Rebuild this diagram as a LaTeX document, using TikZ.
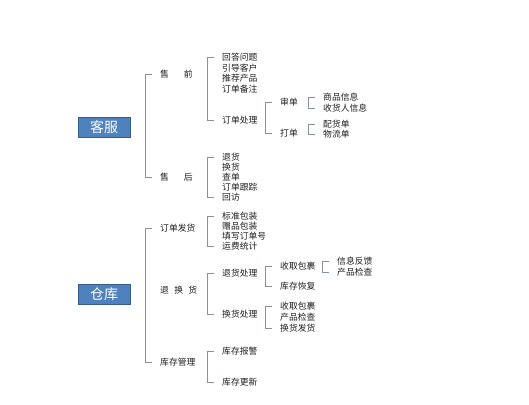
\documentclass[tikz,border=0pt]{standalone}
\usepackage{fontspec}
\setmainfont{Noto Sans CJK SC}
\usepackage{tikz}
\usetikzlibrary{positioning,calc}
\definecolor{boxblue}{RGB}{79,129,189}
\definecolor{boxedge}{RGB}{56,93,138}
\definecolor{linegray}{RGB}{135,145,155}
\definecolor{textgray}{RGB}{30,30,30}
\tikzset{
    root/.style={draw=boxedge, line width=0.8pt, fill=boxblue, text=white, minimum width=52pt, minimum height=20pt, inner sep=0pt, font=\fontsize{14}{16}\selectfont},
    item/.style={anchor=west, inner sep=0pt, text=textgray, font=\fontsize{8.8}{10}\selectfont},
    brace/.style={draw=linegray, line width=0.8pt}
}
\begin{document}
\begin{tikzpicture}[x=1pt, y=-1pt]
    \useasboundingbox (0,0) rectangle (529,404);
    % roots
    \node[root] (kf) at (104,127) {客服};
    \node[root] (ck) at (104,294) {仓库};
    % first level
    \node[item] (sq) at (160,74) {售\hspace{1.7em}前};
    \node[item] (sh) at (160,177) {售\hspace{1.7em}后};
    \node[item] (fh) at (160,228) {订单发货};
    \node[item] (thh) at (160,290) {退\hspace{0.6em}换\hspace{0.6em}货};
    \node[item] (kcgl) at (160,362) {库存管理};
    % second level
    \node[item] (hd) at (222,57) {回答问题};
    \node[item] (yd) at (222,68) {引导客户};
    \node[item] (tj) at (222,78) {推荐产品};
    \node[item] (bz) at (222,89) {订单备注};
    \node[item] (cl) at (222,120) {订单处理};
    \node[item] (th) at (222,157) {退货};
    \node[item] (hh) at (222,167) {换货};
    \node[item] (cd) at (222,177) {查单};
    \node[item] (gz) at (222,187) {订单跟踪};
    \node[item] (hf) at (222,197) {回访};
    \node[item] (bzbz) at (222,216) {标准包装};
    \node[item] (zp) at (222,226) {赠品包装};
    \node[item] (tx) at (222,236) {填写订单号};
    \node[item] (yf) at (222,246) {运费统计};
    \node[item] (thcl) at (222,273) {退货处理};
    \node[item] (hhcl) at (222,314) {换货处理};
    \node[item] (bj) at (222,351) {库存报警};
    \node[item] (gx) at (222,382) {库存更新};
    % third level
    \node[item] (sd) at (280,102) {审单};
    \node[item] (dd) at (280,133) {打单};
    \node[item] (sqa) at (280,266) {收取包裹};
    \node[item] (hfa) at (280,286) {库存恢复};
    \node[item] (sqb) at (280,306) {收取包裹};
    \node[item] (jcb) at (280,317) {产品检查};
    \node[item] (fhb) at (280,328) {换货发货};
    % fourth level
    \node[item] (xx) at (323,97) {商品信息};
    \node[item] (shr) at (323,108) {收货人信息};
    \node[item] (ph) at (323,124) {配货单};
    \node[item] (wl) at (323,134) {物流单};
    \node[item] (fk) at (337,261) {信息反馈};
    \node[item] (jca) at (337,272) {产品检查};
    % brackets
    \draw[brace] ([xshift=-8pt]sq.west) -- ++(-7,0) |- ([xshift=-8pt]sh.west);
    \draw[brace] ([xshift=-8pt]fh.west) -- ++(-7,0) |- ([xshift=-8pt]kcgl.west);
    \draw[brace] ([xshift=-8pt]hd.west) -- ++(-7,0) |- ([xshift=-8pt]cl.west);
    \draw[brace] ([xshift=-8pt]th.west) -- ++(-7,0) |- ([xshift=-8pt]hf.west);
    \draw[brace] ([xshift=-8pt]bzbz.west) -- ++(-7,0) |- ([xshift=-8pt]yf.west);
    \draw[brace] ([xshift=-8pt]thcl.west) -- ++(-7,0) |- ([xshift=-8pt]hhcl.west);
    \draw[brace] ([xshift=-8pt]bj.west) -- ++(-7,0) |- ([xshift=-8pt]gx.west);
    \draw[brace] ([xshift=-8pt]sd.west) -- ++(-7,0) |- ([xshift=-8pt]dd.west);
    \draw[brace] ([xshift=-8pt]sqa.west) -- ++(-7,0) |- ([xshift=-8pt]hfa.west);
    \draw[brace] ([xshift=-8pt]sqb.west) -- ++(-7,0) |- ([xshift=-8pt]fhb.west);
    \draw[brace] ([xshift=-8pt]xx.west) -- ++(-7,0) |- ([xshift=-8pt]shr.west);
    \draw[brace] ([xshift=-8pt]ph.west) -- ++(-7,0) |- ([xshift=-8pt]wl.west);
    \draw[brace] ([xshift=-8pt]fk.west) -- ++(-7,0) |- ([xshift=-8pt]jca.west);
\end{tikzpicture}
\end{document}
